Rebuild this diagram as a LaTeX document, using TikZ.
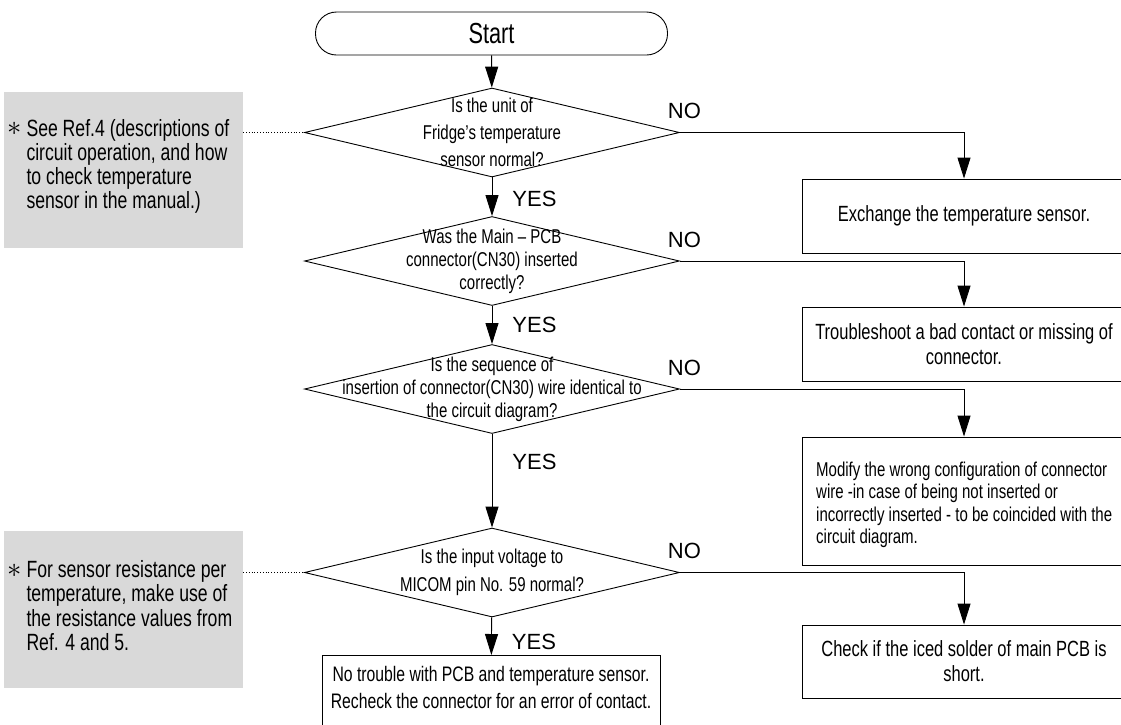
\documentclass[tikz,border=0pt]{standalone}
\usepackage{fontspec}
\setmainfont{Liberation Sans}
\newfontfamily\narrowfont[FakeStretch=0.75]{Liberation Sans}
\usepackage{graphicx}
\usepackage{tikz}
\usetikzlibrary{shapes.geometric, arrows.meta, positioning}
\definecolor{notegray}{RGB}{217,217,217}
\tikzset{
  basebox/.style={rectangle,draw=black,line width=0.9pt,align=center,inner sep=0pt},
  startnode/.style={basebox,rounded corners=21pt,minimum width=352pt,minimum height=43pt,font=\narrowfont\fontsize{29}{30}\selectfont},
  decnode/.style={diamond,draw=black,line width=0.9pt,minimum width=375pt,minimum height=89pt,inner sep=0pt},
  dectext/.style={align=center,inner sep=0pt,font=\narrowfont\fontsize{20}{23}\selectfont},
  fixnode/.style={basebox,minimum width=324pt,font=\narrowfont\fontsize{22}{25}\selectfont},
  notenode/.style={rectangle,fill=notegray,minimum width=239pt,inner sep=0pt},
  notetext/.style={align=left,inner sep=0pt,font=\narrowfont\fontsize{23.5}{24}\selectfont},
  ynlabel/.style={inner sep=0pt,font=\fontsize{22}{24}\selectfont},
  arr/.style={-{Triangle[length=21pt,width=13pt]},line width=0.9pt},
  dotline/.style={line width=0.8pt,dotted}
}
\newcommand{\notestar}{\raisebox{0.5pt}{\scalebox{1.15}{$\ast$}}}

\begin{document}
\begin{tikzpicture}[x=1pt,y=-1pt]
  \useasboundingbox (0,0) rectangle (1121,724);
  % main column
  \node[startnode] (start) at (491.5,33.5) {Start};
  \node[decnode] (q1) at (492,132.5) {};
  \node[dectext,font=\narrowfont\fontsize{20}{27}\selectfont] (q1t) at (q1) {Is the unit of\\Fridge’s temperature\\sensor normal?};
  \node[decnode] (q2) at (492,261) {};
  \node[dectext] (q2t) at (q2) {Was the Main – PCB\\connector(CN30) inserted\\correctly?};
  \node[decnode] (q3) at (492,389) {};
  \node[dectext] (q3t) at (q3) {Is the sequence of\\insertion of connector(CN30) wire identical to\\the circuit diagram?};
  \node[decnode] (q4) at (492,572.5) {};
  \node[dectext,font=\narrowfont\fontsize{20}{28}\selectfont] (q4t) at (q4) {Is the input voltage to\\MICOM pin No. 59 normal?};
  \node[basebox,minimum width=338pt,minimum height=90pt,anchor=north] (ok) at (491,655) {};
  \node[dectext,font=\narrowfont\fontsize{21}{27}\selectfont] (okt) at (491,687) {No trouble with PCB and temperature sensor.\\Recheck the connector for an error of contact.};
  % right column
  \node[fixnode,minimum height=74pt] (fix1) at (964,216) {Exchange the temperature sensor.};
  \node[fixnode,minimum height=74pt] (fix2) at (964,344) {Troubleshoot a bad contact or missing of\\connector.};
  \node[fixnode,minimum height=128pt] (fix3) at (964,501) {};
  \node[dectext,align=left,anchor=west,font=\narrowfont\fontsize{20}{22.5}\selectfont] (fix3t) at (816,505) {Modify the wrong configuration of connector\\wire -in case of being not inserted or\\incorrectly inserted - to be coincided with the\\circuit diagram.};
  \node[fixnode,minimum height=73pt] (fix4) at (964,661.5) {Check if the iced solder of main PCB is\\short.};
  % notes
  \node[notenode,minimum height=156pt] (note1) at (123.5,170) {};
  \node[notetext,anchor=west] (note1t) at (7,167.5) {\begin{tabular}{@{}l@{\hspace{5pt}}l@{}}\notestar & See Ref.4 (descriptions of\\ & circuit operation, and how\\ & to check temperature\\ & sensor in the manual.)\end{tabular}};
  \node[notenode,minimum height=157pt] (note2) at (123.5,609.5) {};
  \node[notetext,anchor=west] (note2t) at (7,609) {\begin{tabular}{@{}l@{\hspace{5pt}}l@{}}\notestar & For sensor resistance per\\ & temperature, make use of\\ & the resistance values from\\ & Ref. 4 and 5.\end{tabular}};
  % connectors
  \draw[arr] (start) -- (q1);
  \draw[arr] (q1) -- node[ynlabel,pos=0.55,right=20pt] (y1) {YES} (q2);
  \draw[arr] (q2) -- node[ynlabel,pos=0.5,right=20pt] (y2) {YES} (q3);
  \draw[arr] (q3) -- node[ynlabel,pos=0.3,right=20pt] (y3) {YES} (q4);
  \draw[arr] (q4) -- node[ynlabel,pos=0.66,right=20pt] (y4) {YES} (ok);
  \foreach \q/\f in {q1/fix1,q2/fix2,q3/fix3,q4/fix4} {
    \draw[arr] (\q.east) -| (\f.north);
    \node[ynlabel] (\q no) at ([xshift=4.5pt,yshift=21.5pt]\q.east) {NO};
  }
  \draw[dotline] (q1.west -| note1.east) -- (q1.west);
  \draw[dotline] (q4.west -| note2.east) -- (q4.west);
\end{tikzpicture}
\end{document}
